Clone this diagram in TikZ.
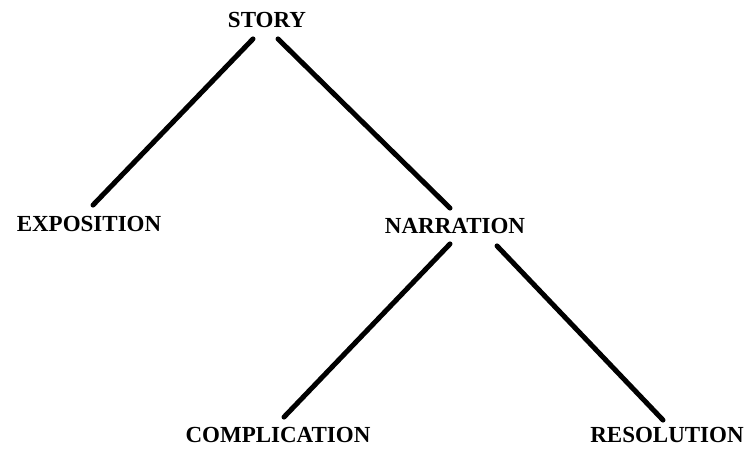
\documentclass[tikz,border=0pt]{standalone}
\usepackage{fontspec}
\setmainfont{Liberation Serif}
\begin{document}
\begin{tikzpicture}[x=1pt,y=-1pt,
  lbl/.style={inner sep=0pt, font=\fontsize{23}{23}\selectfont\bfseries},
  branch/.style={line width=5pt, line cap=round}]
\useasboundingbox[fill=white] (0,0) rectangle (747,452);
\node[lbl] (story) at (267,20) {STORY};
\node[lbl] (expo) at (89,224) {EXPOSITION};
\node[lbl] (narr) at (455,226) {NARRATION};
\node[lbl] (comp) at (278,435) {COMPLICATION};
\node[lbl] (reso) at (667,435) {RESOLUTION};
\draw[branch] ([shift={(-14,11)}]story.south) -- ([shift={(4,-11)}]expo.north);
\draw[branch] ([shift={(11,11)}]story.south) -- ([shift={(-5,-10)}]narr.north);
\draw[branch] ([shift={(-5,10)}]narr.south) -- ([shift={(6,-10)}]comp.north);
\draw[branch] ([shift={(42,12)}]narr.south) -- ([shift={(-4,-7)}]reso.north);
\end{tikzpicture}
\end{document}
